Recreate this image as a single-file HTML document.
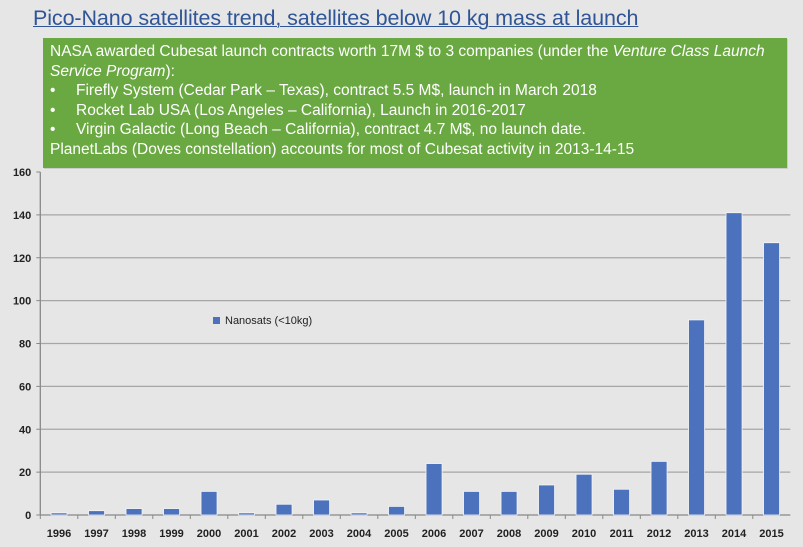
<!DOCTYPE html>
<html><head><meta charset="utf-8"><style>
body{margin:0;width:803px;height:547px;background:#e6e6e6;font-family:"Liberation Sans",sans-serif;overflow:hidden;position:relative}
#title{position:absolute;left:33px;top:6px;font-size:21.5px;color:#2f5597;text-decoration:underline;text-decoration-thickness:1px;white-space:nowrap;letter-spacing:-0.1px}
#box{position:absolute;left:43px;top:38px;width:731px;height:118px;padding:4px 6px 8px 7px;background:#6aa842;color:#fff;font-size:15.5px;line-height:19.6px;box-shadow:1px 1px 0 #ccc}
.b{padding-left:0}.b span{display:inline-block;width:26px}
svg{position:absolute;left:0;top:0}
</style></head><body>
<div id="title">Pico-Nano satellites trend, satellites below 10 kg mass at launch</div>
<div id="box">
<div>NASA awarded Cubesat launch contracts worth 17M $ to 3 companies (under the <i>Venture Class Launch Service Program</i>):</div>
<div class="b"><span>•</span>Firefly System (Cedar Park – Texas), contract 5.5 M$, launch in March 2018</div>
<div class="b"><span>•</span>Rocket Lab USA (Los Angeles – California), Launch in 2016-2017</div>
<div class="b"><span>•</span>Virgin Galactic (Long Beach – California), contract 4.7 M$, no launch date.</div>
<div>PlanetLabs (Doves constellation) accounts for most of Cubesat activity in 2013-14-15</div>
</div>
<svg id="chart" width="803" height="547"></svg>
<script>
const categories=["1996","1997","1998","1999","2000","2001","2002","2003","2004","2005","2006","2007","2008","2009","2010","2011","2012","2013","2014","2015"];
const values=[1,2,3,3,11,1,5,7,1,4,24,11,11,14,19,12,25,91,141,127];
const yTicks=[0,20,40,60,80,100,120,140,160];
const svg=document.getElementById('chart');const NS='http://www.w3.org/2000/svg';
const x0=40.3,x1=790.3,yTop=172,yBot=515,yMax=160;
const step=(x1-x0)/categories.length;
const y=v=>yBot-(v/yMax)*(yBot-yTop);
const xc=i=>x0+step*(i+0.5);
function mk(t,a){const e=document.createElementNS(NS,t);for(const k in a)e.setAttribute(k,a[k]);svg.appendChild(e);return e;}
yTicks.forEach(t=>{
 if(t>0 && t<160){const g=mk('line',{x1:x0,x2:x1,y1:y(t),y2:y(t),stroke:'#a6a6a6','stroke-width':1.3});
 }
 const tk=mk('line',{x1:x0-4,x2:x0,y1:y(t),y2:y(t),stroke:'#888'});
 
 const l=mk('text',{x:x0-9,y:y(t)+4,'text-anchor':'end','font-size':11,'font-weight':'bold','fill':'#222','font-family':'Liberation Sans, sans-serif'});
 l.textContent=t;
});
const ax=mk('line',{x1:x0,x2:x0,y1:yTop,y2:yBot,stroke:'#888','stroke-width':1.3});

const xa=mk('line',{x1:x0,x2:x1,y1:yBot,y2:yBot,stroke:'#888','stroke-width':1.3});

categories.forEach((c,i)=>{
 const tk=mk('line',{x1:x0+step*i,x2:x0+step*i,y1:yBot,y2:yBot+4,stroke:'#888'});
 
 const b=mk('rect',{x:xc(i)-8,y:y(values[i]),width:16,height:yBot-y(values[i]),fill:'#4c72be',stroke:'#f4f4f4','stroke-width':0.8});
 
 const l=mk('text',{x:xc(i),y:yBot+22,'text-anchor':'middle','font-size':11,'font-weight':'bold','fill':'#222','font-family':'Liberation Sans, sans-serif'});
 l.textContent=c;
});
const lg=mk('rect',{x:213,y:317,width:7,height:7,fill:'#4c72be'});

const lt=mk('text',{x:225,y:324,'font-size':11,'fill':'#222','font-family':'Liberation Sans, sans-serif'});
lt.textContent='Nanosats (<10kg)';
</script>
</body></html>
